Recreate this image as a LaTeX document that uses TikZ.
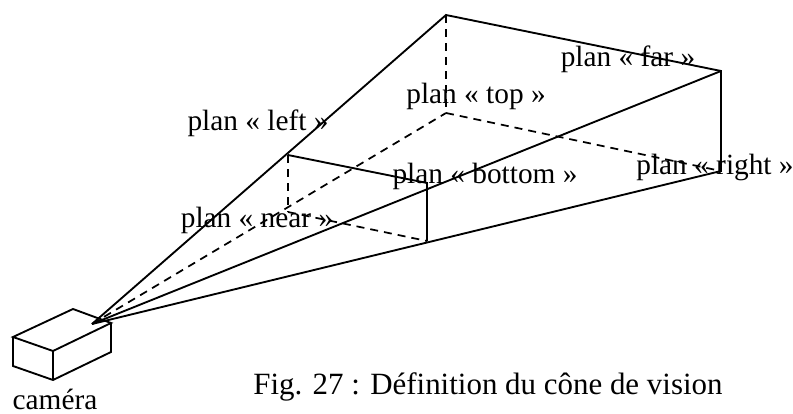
\documentclass[tikz,border=0pt]{standalone}
\usepackage{fontspec}
\setmainfont{Liberation Serif}
\usetikzlibrary{positioning}

\begin{document}
\begin{tikzpicture}[
    x=0.75pt, y=-0.75pt, % one unit is one pixel of the figure
    line width=1.4pt,
    hidden/.style={dashed, dash pattern=on 6pt off 4.5pt, line width=1.3pt},
    every node/.style={font=\fontsize{22}{24}\selectfont, inner sep=0pt, anchor=base}
]
    \useasboundingbox (0,0) rectangle (793,414);

    % Corners of the cone
    \coordinate (apex) at (92,324);
    \coordinate (farTL) at (446,15);
    \coordinate (farTR) at (721,71);
    \coordinate (farBR) at (721,171);
    \coordinate (farBL) at (446,113);
    \coordinate (nearTL) at (288,155);
    \coordinate (nearTR) at (427,183);
    \coordinate (nearBR) at (427,241);
    \coordinate (nearBL) at (288,212);

    % Corners of the camera
    \coordinate (camL) at (13,337);
    \coordinate (camB) at (73,309);
    \coordinate (camR) at (111,323);
    \coordinate (camF) at (53,351);
    \coordinate (camLd) at (13,366);
    \coordinate (camFd) at (53,380);
    \coordinate (camRd) at (111,352);

    % Draw the camera
    \draw (camL) -- (camB) -- (camR) -- (camF) -- cycle;
    \draw (camL) -- (camLd) -- (camFd) -- (camRd) -- (camR);
    \draw (camF) -- (camFd);

    % Draw the visible edges
    \draw (apex) -- (farTL) -- (farTR) -- (farBR) -- (apex);
    \draw (apex) -- (farTR);
    \draw (nearTL) -- (nearTR) -- (nearBR);

    % draw the hidden edges
    \draw [hidden] (apex) -- (farBL);
    \draw [hidden] (farTL) -- (farBL);
    \draw [hidden] (farBL) -- (farBR);
    \draw [hidden] (nearTL) -- (nearBL);
    \draw [hidden] (nearBL) -- (nearBR);

    % Place the labels
    \node (left) at (258,130) {plan « left »};
    \node (far) at (628,66) {plan « far »};
    \node (top) at (476,103) {plan « top »};
    \node (bottom) at (485,183) {plan « bottom »};
    \node (right) at (715,174) {plan « right »};
    \node (near) at (257,227) {plan « near »};
    \node (camera) at (55,409) {caméra};
    \node (caption) [font=\fontsize{23.2}{26}\selectfont] at (488,394) {Fig. 27 : Définition du cône de vision};
\end{tikzpicture}
\end{document}
